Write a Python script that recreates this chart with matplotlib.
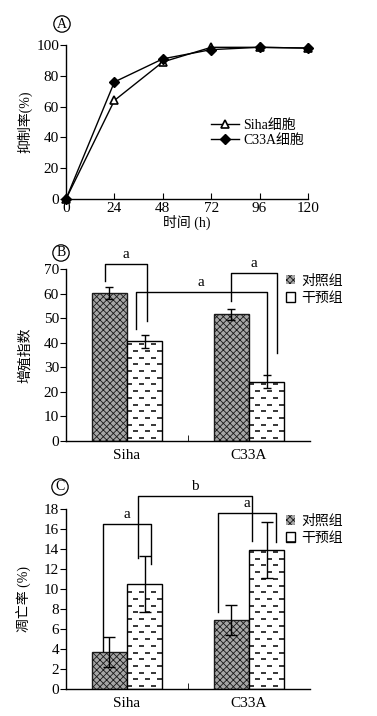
import matplotlib
matplotlib.use('Agg')
import matplotlib.pyplot as plt
import numpy as np
from matplotlib.lines import Line2D
from matplotlib.patches import Patch
from matplotlib.transforms import IdentityTransform

plt.rcParams['font.family'] = ['Liberation Serif', 'Noto Sans CJK SC']
plt.rcParams['font.size'] = 10
plt.rcParams['hatch.linewidth'] = 0.6
plt.rcParams['axes.linewidth'] = 1.0

# Panel A: inhibition rate over time
hours = [0, 24, 48, 72, 96, 120]
siha_inhib = [0, 64, 89, 98.5, 98.5, 98]
c33a_inhib = [0, 76, 91, 97, 98.5, 98]

# Panel B / C: two cell lines, control vs intervention
cells = ['Siha', 'C33A']
group_names = ['对照组', '干预组']
prolif_ctrl = [60.2, 51.5]
prolif_ctrl_err = [2.3, 2.3]
prolif_trt = [40.5, 24.2]
prolif_trt_err = [2.5, 2.5]
apop_ctrl = [3.7, 6.9]
apop_ctrl_err = [1.5, 1.5]
apop_trt = [10.5, 13.9]
apop_trt_err = [2.8, 2.8]

CTRL_FACE = '#a6a6a6'
CTRL_HATCH = 'xxxxx'

W, H = 377, 716
fig = plt.figure(figsize=(W / 100, H / 100), dpi=100)


def axes_px(left, right, top, bottom):
    return fig.add_axes([left / W, 1 - bottom / H, (right - left) / W, (bottom - top) / H])


def circled(x, y, s):
    fig.text(x / W, 1 - y / H, s, ha='center', va='center', fontsize=10,
             bbox=dict(boxstyle='circle,pad=0.12', facecolor='white', edgecolor='black', lw=0.9))


# ---------------- Panel A ----------------
axA = axes_px(66, 308, 45, 199)
axA.plot(hours, siha_inhib, color='black', lw=1, marker='^', ms=6,
         mfc='white', mec='black', mew=1.2, clip_on=False, zorder=3, label='Siha细胞')
axA.plot(hours, c33a_inhib, color='black', lw=1, marker='D', ms=5.5,
         mfc='black', mec='black', clip_on=False, zorder=4, label='C33A细胞')
axA.set_xlim(0, 120)
axA.set_ylim(0, 100)
axA.set_xticks(hours)
axA.set_yticks(np.arange(0, 101, 20))
axA.tick_params(axis='both', labelsize=11)
axA.tick_params(axis='x', direction='in', length=4, pad=2)
axA.tick_params(axis='y', direction='out', length=4, pad=1)
for s in ['top', 'right']:
    axA.spines[s].set_visible(False)
axA.set_xlabel('时间 (h)', labelpad=0)
axA.set_ylabel('抑制率(%)')
axA.yaxis.set_label_coords(-0.14, 0.5)
axA.legend(loc='upper left', bbox_to_anchor=(0.6, 0.52), frameon=False,
           handlelength=2.0, labelspacing=0.15, borderpad=0, borderaxespad=0,
           handletextpad=0.3)
circled(62, 24, 'A')


# ---------------- bar helpers ----------------
def dash_fill(ax, patch, period=12, length=5, row=6.7):
    x0, y0 = ax.transData.transform((patch.get_x(), patch.get_y()))
    x1, y1 = ax.transData.transform((patch.get_x() + patch.get_width(),
                                     patch.get_y() + patch.get_height()))
    yy = y0 + 3
    k = 0
    while yy < y1 - 2:
        off = (k % 2) * period / 2
        xx = x0 - period + off
        while xx < x1:
            ln = Line2D([xx, xx + length], [yy, yy], color='black', lw=1.1,
                        transform=IdentityTransform(), solid_capstyle='butt')
            ln.set_clip_path(patch)
            fig.add_artist(ln)
            xx += period
        yy += row
        k += 1


def bar_panel(ax, ctrl, ctrl_err, trt, trt_err, ymax, ystep, capsize):
    x = np.arange(len(cells))
    w = 0.288
    ax.bar(x - w / 2, ctrl, w, color=CTRL_FACE, edgecolor='#1a1a1a', hatch=CTRL_HATCH,
           lw=1, zorder=2)
    b2 = ax.bar(x + w / 2, trt, w, color='white', edgecolor='black', lw=1, zorder=2)
    ax.errorbar(x - w / 2, ctrl, yerr=ctrl_err, fmt='none', ecolor='black', elinewidth=1,
                capsize=capsize, capthick=1, zorder=5)
    ax.errorbar(x + w / 2, trt, yerr=trt_err, fmt='none', ecolor='black', elinewidth=1,
                capsize=capsize, capthick=1, zorder=5)
    ax.set_xlim(-0.5, 1.5)
    ax.set_ylim(0, ymax)
    ax.set_yticks(np.arange(0, ymax + 0.1, ystep))
    ax.set_xticks(x)
    ax.set_xticklabels(cells)
    ax.set_xticks([0.5], minor=True)
    ax.tick_params(axis='both', labelsize=11)
    ax.tick_params(axis='x', which='major', length=0, pad=6)
    ax.tick_params(axis='x', which='minor', direction='in', length=4)
    ax.tick_params(axis='y', direction='out', length=4, pad=1)
    for s in ['top', 'right']:
        ax.spines[s].set_visible(False)
    ax.legend([Patch(facecolor=CTRL_FACE, edgecolor='#1a1a1a', hatch=CTRL_HATCH, lw=0),
               Patch(facecolor='white', edgecolor='black', hatch='-', lw=1)],
              group_names, loc='upper left', bbox_to_anchor=(0.9, 0.97), frameon=False,
              handlelength=0.7, handleheight=0.7, labelspacing=0.3, borderpad=0,
              borderaxespad=0, handletextpad=0.4)
    return b2


def bracket(ax, xl, yl, xr, yr, ytop, label):
    ax.plot([xl, xl, xr, xr], [yl, ytop, ytop, yr], color='black', lw=1, clip_on=False,
            zorder=6)
    ax.annotate(label, ((xl + xr) / 2, ytop), xytext=(0, 2), textcoords='offset points',
                ha='center', va='bottom', fontsize=11, annotation_clip=False)


# ---------------- Panel B ----------------
axB = axes_px(66, 310, 269, 441)
trtB = bar_panel(axB, prolif_ctrl, prolif_ctrl_err, prolif_trt, prolif_trt_err, 70, 10, 3)
axB.set_ylabel('增殖指数')
axB.yaxis.set_label_coords(-0.14, 0.5)
bracket(axB, -0.183, 65.3, 0.160, 49, 72, 'a')
bracket(axB, 0.070, 45.5, 1.146, 27, 60.8, 'a')
bracket(axB, 0.852, 57, 1.228, 35.8, 68.4, 'a')
circled(61, 253, 'B')

# ---------------- Panel C ----------------
axC = axes_px(66, 310, 509, 689)
trtC = bar_panel(axC, apop_ctrl, apop_ctrl_err, apop_trt, apop_trt_err, 18, 2, 4)
axC.set_ylabel('凋亡率 (%)')
axC.yaxis.set_label_coords(-0.14, 0.5)
bracket(axC, -0.200, 3.8, 0.195, 12.5, 16.5, 'a')
bracket(axC, 0.093, 13.1, 1.026, 14.8, 19.3, 'b')
bracket(axC, 0.744, 7.7, 1.222, 14.7, 17.6, 'a')
circled(60, 487, 'C')

fig.canvas.draw()
for p in trtB:
    dash_fill(axB, p)
for p in trtC:
    dash_fill(axC, p)

fig.savefig('out.png', dpi=100, facecolor='white')
